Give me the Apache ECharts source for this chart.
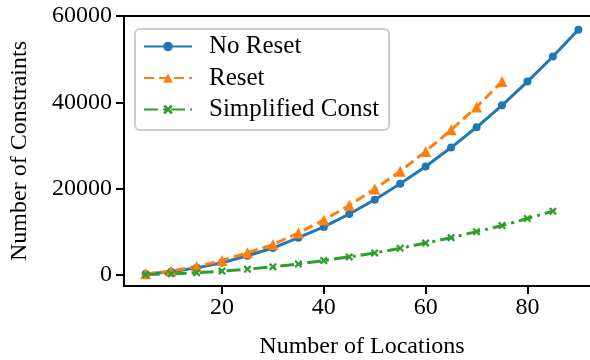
<!DOCTYPE html>
<html><head><meta charset="utf-8">
<script src="https://cdn.jsdelivr.net/npm/echarts@6/dist/echarts.min.js"></script>
<style>html,body{margin:0;padding:0;background:#fff}#c{width:590px;height:360px}</style>
</head><body><div id="c"></div>
<script>
const locations = [5,10,15,20,25,30,35,40,45,50,55,60,65,70,75,80,85,90];
const noReset = [200,700,1600,2800,4400,6200,8600,11100,14100,17400,21100,25100,29500,34200,39300,44800,50600,56800];
const reset = [250,850,1900,3300,5100,7000,9700,12700,16100,19900,24000,28600,33600,38900,44800];
const simplified = [60,220,480,850,1300,1850,2500,3300,4150,5050,6150,7350,8600,10000,11400,13050,14750];
const xTicks = [20,40,60,80];
const yTicks = [0,20000,40000,60000];

const pair = (xs, ys) => ys.map((v,i)=>[xs[i], v]);
const FONT = 'Liberation Serif';
const X_SYM = 'path://M2,0 L5,3 L8,0 L10,2 L7,5 L10,8 L8,10 L5,7 L2,10 L0,8 L3,5 L0,2 Z';

const chart = echarts.init(document.getElementById('c'), null, {renderer:'canvas'});
chart.setOption({
  animation:false,
  textStyle:{fontFamily:FONT},
  grid:{left:124, top:16, width:476, height:270, show:true, borderColor:'#000', borderWidth:2,
        backgroundColor:'transparent', containLabel:false, outerBoundsMode:'none'},
  legend:{
    left:135, top:29, orient:'vertical',
    itemWidth:48, itemHeight:12, itemGap:6.5,
    padding:[5,10,8,8],
    borderColor:'#cccccc', borderWidth:2, borderRadius:5,
    backgroundColor:'rgba(255,255,255,0.8)',
    textStyle:{fontFamily:FONT, fontSize:25, color:'#000', padding:[0,0,0,12]},
    data:['No Reset','Reset','Simplified Const']
  },
  xAxis:{
    type:'value', min:0.75, max:94.25,
    name:'Number of Locations', nameLocation:'middle', nameGap:49,
    nameTextStyle:{fontFamily:FONT, fontSize:24, color:'#000'},
    axisLine:{show:true, onZero:false, lineStyle:{color:'#000', width:2}},
    axisTick:{show:true, length:8, lineStyle:{color:'#000', width:2}, customValues:xTicks},
    axisLabel:{fontFamily:FONT, fontSize:24, color:'#000', margin:10, customValues:xTicks},
    splitLine:{show:false}
  },
  yAxis:{
    type:'value', min:-2600, max:60000,
    name:'Number of Constraints', nameLocation:'middle', nameGap:92,
    nameTextStyle:{fontFamily:FONT, fontSize:24, color:'#000'},
    axisLine:{show:true, onZero:false, lineStyle:{color:'#000', width:2}},
    axisTick:{show:true, length:8, lineStyle:{color:'#000', width:2}, customValues:yTicks},
    axisLabel:{fontFamily:FONT, fontSize:24, color:'#000', margin:12, customValues:yTicks, formatter:(v)=>String(v)},
    splitLine:{show:false}
  },
  series:[
    {name:'No Reset', type:'line', data:pair(locations,noReset), symbol:'circle', symbolSize:8,
     itemStyle:{color:'#1f77b4'}, lineStyle:{color:'#1f77b4', width:3}},
    {name:'Reset', type:'line', data:pair(locations,reset), symbol:'triangle', symbolSize:11,
     itemStyle:{color:'#ff7f0e'}, lineStyle:{color:'#ff7f0e', width:3, type:[10,5]}},
    {name:'Simplified Const', type:'line', data:pair(locations,simplified), symbol:X_SYM, symbolSize:8,
     itemStyle:{color:'#2ca02c'}, lineStyle:{color:'#2ca02c', width:3, type:[14,5,3,5]}}
  ]
});
</script></body></html>
